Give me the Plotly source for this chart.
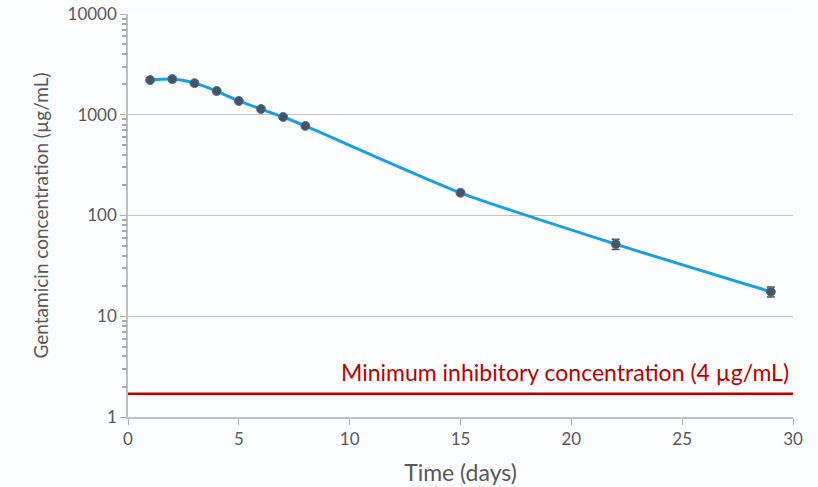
import math
import plotly.graph_objects as go

days = [1, 2, 3, 4, 5, 6, 7, 8, 15, 22, 29]
conc = [2210, 2260, 2060, 1720, 1370, 1140, 950, 775, 168, 52, 17.5]
err = [90, 90, 80, 60, 50, 40, 35, 30, 8, 6, 2]
mic_level = 1.7
mic_label = "Minimum inhibitory concentration (4 µg/mL)"
x_ticks = [0, 5, 10, 15, 20, 25, 30]
y_ticks = [1, 10, 100, 1000, 10000]
y_minor = [m * d for d in [1, 10, 100, 1000] for m in range(2, 10)]

TXT = "#595959"
FONT = "Lato"

fig = go.Figure()
fig.add_trace(go.Scatter(
    x=[0, 30], y=[mic_level, mic_level], mode="lines",
    line=dict(color="#c00000", width=2.5), hoverinfo="skip", showlegend=False))
fig.add_trace(go.Scatter(
    x=days, y=conc, mode="lines+markers",
    line=dict(color="#1aa0e0", width=3, shape="spline", smoothing=0.6),
    marker=dict(size=9, color="#4d525c", line=dict(color="#3a78c0", width=1)),
    error_y=dict(type="data", array=err, color="#4d525c", thickness=1.5, width=4),
    showlegend=False))
# invisible trace to activate the minor-tick overlay axis
fig.add_trace(go.Scatter(x=[1], y=[100], yaxis="y2", mode="markers",
                         marker=dict(opacity=0), showlegend=False, hoverinfo="skip"))

fig.add_annotation(x=29.9, y=math.log10(mic_level), xref="x", yref="y",
                   xanchor="right", yanchor="bottom", yshift=6,
                   text=mic_label, showarrow=False,
                   font=dict(color="#c00000", size=23, family=FONT))

fig.update_xaxes(range=[0, 30], tickvals=x_ticks, ticks="outside", ticklen=6,
                 tickcolor="#b0b0b0", showline=True, linecolor="#c0c0c0", linewidth=1.5,
                 showgrid=False, zeroline=False, automargin=False,
                 tickfont=dict(size=17, color=TXT, family=FONT),
                 title=dict(text="Time (days)", font=dict(size=23, color=TXT, family=FONT),
                            standoff=17))

fig.update_layout(
    width=818, height=487,
    margin=dict(l=128, r=25, t=14, b=70),
    paper_bgcolor="#fbfdfe", plot_bgcolor="#fdfeff",
    font=dict(family=FONT),
    yaxis=dict(type="log", range=[0, 4], tickmode="array", tickvals=y_ticks,
               ticktext=[str(v) for v in y_ticks],
               ticks="outside", ticklen=6, tickcolor="#b0b0b0",
               showline=True, linecolor="#c0c0c0", linewidth=1.5,
               showgrid=True, gridcolor="#c4c4c4", gridwidth=1.2, zeroline=False,
               automargin=False,
               tickfont=dict(size=17, color=TXT, family=FONT),
               title=dict(text="Gentamicin concentration (µg/mL)",
                          font=dict(size=19, color=TXT, family=FONT), standoff=14)),
    yaxis2=dict(type="log", range=[0, 4], overlaying="y", side="left", anchor="x",
                tickmode="array", tickvals=y_minor, showticklabels=False,
                ticks="outside", ticklen=5, tickwidth=1.5, tickcolor="#a8a8a8",
                showgrid=False, zeroline=False, showline=False, automargin=False),
)
fig.write_html("out.html", config={"displayModeBar": False},
               post_script="document.body.style.margin='0';")
